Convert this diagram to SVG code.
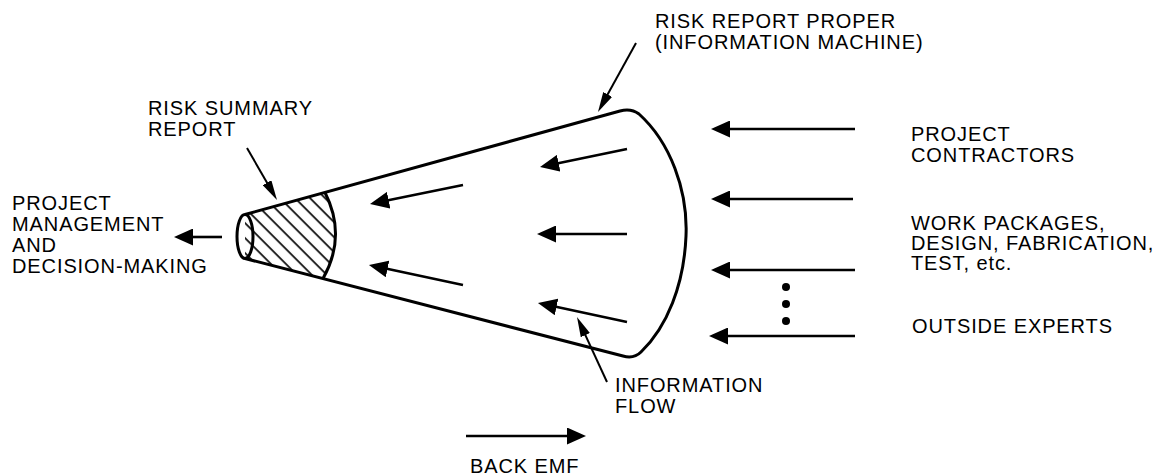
<svg xmlns="http://www.w3.org/2000/svg" width="1162" height="475" viewBox="0 0 1162 475">
  <style>
    text { font-family: "Liberation Sans", Arial, Helvetica, sans-serif; font-size: 20px; letter-spacing: 0.9px; fill: #000; }
    .outline { fill: none; stroke: #000; stroke-width: 3; stroke-linejoin: round; }
    .flow { fill: none; stroke: #000; stroke-width: 2.6; marker-end: url(#head); }
    .pointer { fill: none; stroke: #000; stroke-width: 2; marker-end: url(#tip); }
  </style>
  <defs>
    <marker id="head" viewBox="0 0 19 17" refX="3" refY="8.5" markerWidth="19" markerHeight="17" markerUnits="userSpaceOnUse" orient="auto">
      <path d="M0,0 L19,8.5 L0,17 Z" fill="#000"/>
    </marker>
    <marker id="tip" viewBox="0 0 20 10" refX="3" refY="5" markerWidth="20" markerHeight="10" markerUnits="userSpaceOnUse" orient="auto">
      <path d="M0,0 L20,5 L0,10 Z" fill="#000"/>
    </marker>
    <pattern id="hatch" width="10.6" height="10.6" patternUnits="userSpaceOnUse" patternTransform="rotate(-45)">
      <line x1="5" y1="0" x2="5" y2="10.6" stroke="#000" stroke-width="1.7"/>
    </pattern>
  </defs>

  <!-- the information machine: a cone opening to the right -->
  <g id="risk-report-proper">
    <path class="outline" d="M245,214.5 L620,111 Q631,108 639,114 C670,142 688,190 686,236 C684,285 667,327 641,352 Q634,359 623,356 L245,258.5"/>
  </g>

  <!-- hatched summary section at the narrow end -->
  <g id="risk-summary-report">
    <path d="M245,214.5 L325,192.5 Q347,236 323,278.5 L245,258.5 Z" fill="url(#hatch)"/>
    <path class="outline" d="M325,192.5 Q347,236 323,278.5"/>
    <ellipse class="outline" cx="245" cy="236.5" rx="8" ry="22" fill="#fff"/>
  </g>

  <g id="connectors">
    <!-- inputs from the right -->
    <line class="flow" x1="855" y1="129" x2="727" y2="129"/>
    <line class="flow" x1="853" y1="199" x2="727" y2="199"/>
    <line class="flow" x1="855" y1="270" x2="727" y2="270"/>
    <line class="flow" x1="855" y1="336" x2="725" y2="336"/>
    <!-- flow inside the cone -->
    <line class="flow" x1="627" y1="149" x2="555.7" y2="163.8"/>
    <line class="flow" x1="463" y1="185" x2="385.7" y2="200.8"/>
    <line class="flow" x1="627" y1="234" x2="553" y2="234"/>
    <line class="flow" x1="463" y1="285" x2="384.6" y2="268.3"/>
    <line class="flow" x1="627" y1="322" x2="553.6" y2="306.3"/>
    <!-- output to management -->
    <line class="flow" x1="222" y1="237" x2="190" y2="237"/>
    <!-- back emf -->
    <line class="flow" x1="466" y1="436" x2="570" y2="436"/>
    <!-- label pointers -->
    <line class="pointer" x1="636" y1="43" x2="606.2" y2="97.1"/>
    <line class="pointer" x1="247" y1="148" x2="268.5" y2="185.3"/>
    <line class="pointer" x1="607" y1="382" x2="584.1" y2="332.4"/>
    <!-- continuation dots -->
    <circle cx="786" cy="287" r="4" fill="#000"/>
    <circle cx="786" cy="304" r="4" fill="#000"/>
    <circle cx="786" cy="321" r="4" fill="#000"/>
  </g>

  <g id="labels">
    <text x="655" y="28">RISK REPORT PROPER</text>
    <text x="655" y="49">(INFORMATION MACHINE)</text>
    <text x="148" y="115">RISK SUMMARY</text>
    <text x="148" y="136">REPORT</text>
    <text x="12" y="210">PROJECT</text>
    <text x="12" y="231">MANAGEMENT</text>
    <text x="12" y="252">AND</text>
    <text x="12" y="273">DECISION-MAKING</text>
    <text x="911" y="141">PROJECT</text>
    <text x="911" y="162">CONTRACTORS</text>
    <text x="911" y="230">WORK PACKAGES,</text>
    <text x="911" y="250">DESIGN, FABRICATION,</text>
    <text x="911" y="270">TEST, etc.</text>
    <text x="912" y="333">OUTSIDE EXPERTS</text>
    <text x="615" y="392">INFORMATION</text>
    <text x="615" y="413">FLOW</text>
    <text x="470" y="473">BACK EMF</text>
  </g>
</svg>
